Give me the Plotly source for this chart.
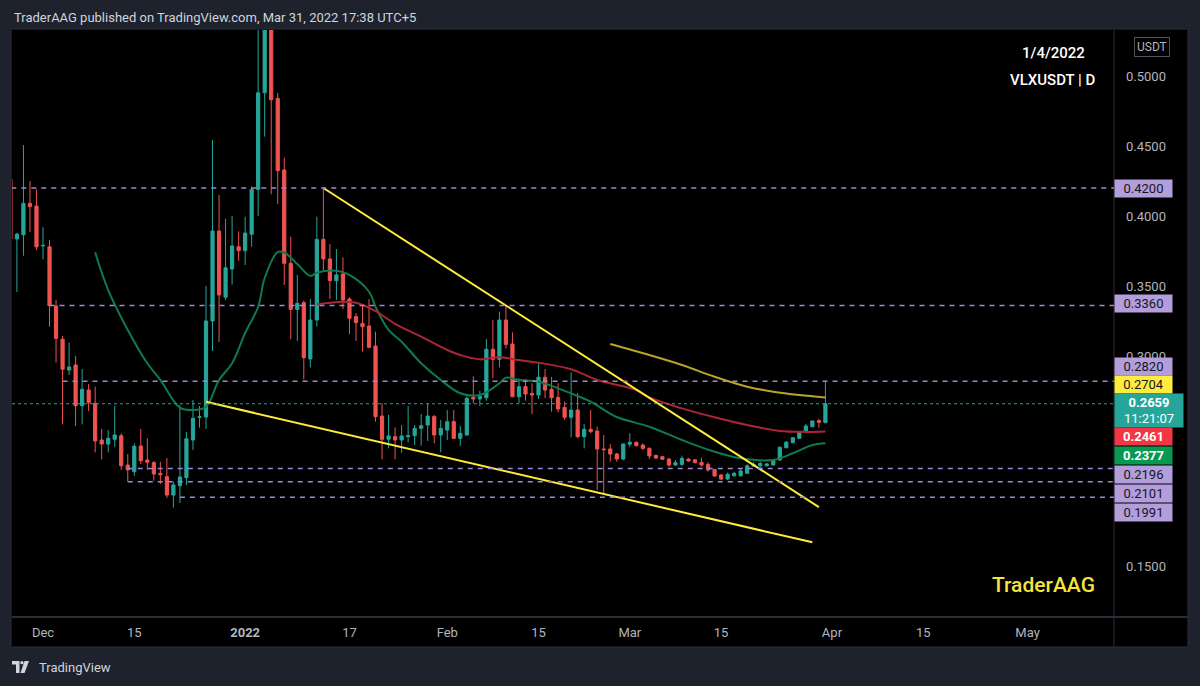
import pandas as pd
import plotly.graph_objects as go

# ---------------- data ----------------
dates = pd.date_range("2021-11-26", "2022-03-31", freq="D")

opens = [0.4264, 0.3836, 0.3866, 0.4090, 0.4071, 0.3786, 0.3780, 0.3357, 0.3120, 0.2900,
         0.2936, 0.2645, 0.2757, 0.2662, 0.2400, 0.2371, 0.2405, 0.2431, 0.2221, 0.2174,
         0.2357, 0.2257, 0.2238, 0.2162, 0.2138, 0.2007, 0.2074, 0.2131, 0.2400, 0.2562,
         0.2564, 0.3250, 0.3893, 0.3420, 0.3621, 0.3780, 0.3752, 0.3870, 0.4190, 0.4880,
         0.5600, 0.4840, 0.4329, 0.3662, 0.3333, 0.3381, 0.2979, 0.3257, 0.3833, 0.3693,
         0.3538, 0.3586, 0.3407, 0.3281, 0.3233, 0.3214, 0.3071, 0.2571, 0.2405, 0.2424,
         0.2400, 0.2424, 0.2431, 0.2483, 0.2507, 0.2567, 0.2436, 0.2471, 0.2531, 0.2412,
         0.2436, 0.2705, 0.2693, 0.2702, 0.3048, 0.2976, 0.3257, 0.3086, 0.2709, 0.2781,
         0.2733, 0.2721, 0.2848, 0.2762, 0.2705, 0.2633, 0.2562, 0.2614, 0.2424, 0.2476,
         0.2464, 0.2336, 0.2336, 0.2300, 0.2264, 0.2370, 0.2384, 0.2364, 0.2340, 0.2291,
         0.2281, 0.2264, 0.2221, 0.2226, 0.2264, 0.2259, 0.2240, 0.2226, 0.2190, 0.2150,
         0.2121, 0.2145, 0.2145, 0.2162, 0.2214, 0.2216, 0.2216, 0.2221, 0.2257, 0.2345,
         0.2381, 0.2412, 0.2459, 0.2495, 0.2538, 0.2524]
highs = [0.4288, 0.3880, 0.4507, 0.4250, 0.4190, 0.3920, 0.3830, 0.3400, 0.3143, 0.3095,
         0.3000, 0.2907, 0.2800, 0.2781, 0.2479, 0.2471, 0.2643, 0.2448, 0.2300, 0.2376,
         0.2479, 0.2412, 0.2250, 0.2245, 0.2271, 0.2102, 0.2650, 0.2459, 0.2686, 0.2643,
         0.3500, 0.4543, 0.4150, 0.3980, 0.4000, 0.3890, 0.3995, 0.4210, 0.5600, 0.6000,
         0.6000, 0.4880, 0.4417, 0.3852, 0.3579, 0.3395, 0.3407, 0.3995, 0.4198, 0.3800,
         0.3764, 0.3705, 0.3419, 0.3305, 0.3364, 0.3407, 0.3174, 0.2662, 0.2579, 0.2490,
         0.2507, 0.2643, 0.2507, 0.2586, 0.2662, 0.2579, 0.2543, 0.2614, 0.2614, 0.2500,
         0.2710, 0.2855, 0.2752, 0.3121, 0.3257, 0.3317, 0.3364, 0.3169, 0.2840, 0.2836,
         0.2805, 0.2943, 0.2907, 0.2850, 0.2805, 0.2674, 0.2883, 0.2736, 0.2514, 0.2614,
         0.2495, 0.2436, 0.2371, 0.2309, 0.2376, 0.2448, 0.2388, 0.2376, 0.2348, 0.2293,
         0.2286, 0.2274, 0.2257, 0.2288, 0.2269, 0.2262, 0.2274, 0.2240, 0.2193, 0.2157,
         0.2167, 0.2174, 0.2198, 0.2226, 0.2245, 0.2245, 0.2236, 0.2260, 0.2352, 0.2393,
         0.2421, 0.2462, 0.2514, 0.2538, 0.2550, 0.2820]
lows = [0.3757, 0.3457, 0.3716, 0.3886, 0.3757, 0.3690, 0.3210, 0.2952, 0.2512, 0.2864,
        0.2500, 0.2512, 0.2607, 0.2312, 0.2262, 0.2312, 0.2352, 0.2186, 0.2102, 0.2143,
        0.2229, 0.2186, 0.2109, 0.2086, 0.1986, 0.1917, 0.1950, 0.2079, 0.2329, 0.2488,
        0.2479, 0.3036, 0.3100, 0.3400, 0.3510, 0.3680, 0.3650, 0.3780, 0.4000, 0.4567,
        0.4155, 0.4086, 0.3507, 0.3120, 0.3107, 0.2833, 0.2919, 0.3210, 0.3610, 0.3407,
        0.3400, 0.3336, 0.3157, 0.3107, 0.3031, 0.3055, 0.2531, 0.2262, 0.2340, 0.2262,
        0.2309, 0.2383, 0.2364, 0.2359, 0.2393, 0.2376, 0.2312, 0.2400, 0.2407, 0.2359,
        0.2431, 0.2662, 0.2643, 0.2680, 0.2841, 0.2919, 0.3055, 0.2705, 0.2662, 0.2681,
        0.2586, 0.2693, 0.2698, 0.2602, 0.2598, 0.2543, 0.2419, 0.2412, 0.2340, 0.2448,
        0.2043, 0.2019, 0.2245, 0.2245, 0.2257, 0.2348, 0.2352, 0.2329, 0.2264, 0.2264,
        0.2257, 0.2209, 0.2216, 0.2214, 0.2245, 0.2233, 0.2209, 0.2174, 0.2138, 0.2114,
        0.2114, 0.2138, 0.2138, 0.2160, 0.2210, 0.2191, 0.2212, 0.2219, 0.2252, 0.2340,
        0.2380, 0.2410, 0.2455, 0.2493, 0.2488, 0.2519]
closes = [0.3836, 0.3870, 0.4090, 0.4067, 0.3780, 0.3790, 0.3360, 0.3126, 0.2905, 0.2921,
          0.2645, 0.2762, 0.2667, 0.2393, 0.2371, 0.2412, 0.2436, 0.2216, 0.2186, 0.2355,
          0.2252, 0.2241, 0.2157, 0.2152, 0.2007, 0.2079, 0.2136, 0.2409, 0.2555, 0.2566,
          0.3250, 0.3893, 0.3436, 0.3630, 0.3786, 0.3752, 0.3878, 0.4190, 0.4880, 0.5600,
          0.4830, 0.4324, 0.3662, 0.3333, 0.3376, 0.2988, 0.3257, 0.3833, 0.3693, 0.3538,
          0.3579, 0.3400, 0.3269, 0.3238, 0.3209, 0.3062, 0.2567, 0.2405, 0.2429, 0.2400,
          0.2429, 0.2431, 0.2483, 0.2502, 0.2571, 0.2436, 0.2483, 0.2531, 0.2412, 0.2448,
          0.2698, 0.2693, 0.2710, 0.3048, 0.2976, 0.3257, 0.3083, 0.2709, 0.2781, 0.2729,
          0.2721, 0.2848, 0.2757, 0.2702, 0.2621, 0.2562, 0.2614, 0.2424, 0.2476, 0.2460,
          0.2336, 0.2331, 0.2300, 0.2264, 0.2371, 0.2384, 0.2360, 0.2340, 0.2286, 0.2271,
          0.2262, 0.2221, 0.2238, 0.2269, 0.2250, 0.2238, 0.2221, 0.2186, 0.2143, 0.2121,
          0.2155, 0.2162, 0.2179, 0.2216, 0.2226, 0.2233, 0.2229, 0.2257, 0.2348, 0.2384,
          0.2416, 0.2459, 0.2500, 0.2536, 0.2526, 0.2659]

ma_green_dates = ["2021-12-09", "2021-12-11", "2021-12-14", "2021-12-17", "2021-12-19", "2021-12-22",
                  "2021-12-24", "2021-12-26", "2021-12-28", "2021-12-30", "2022-01-01", "2022-01-03",
                  "2022-01-04", "2022-01-06", "2022-01-07", "2022-01-09", "2022-01-11", "2022-01-12",
                  "2022-01-15", "2022-01-17", "2022-01-20", "2022-01-21", "2022-01-23", "2022-01-25",
                  "2022-01-28", "2022-01-31", "2022-02-03", "2022-02-06", "2022-02-09", "2022-02-10",
                  "2022-02-12", "2022-02-15", "2022-02-18", "2022-02-21", "2022-02-23", "2022-02-27",
                  "2022-03-04", "2022-03-09", "2022-03-14", "2022-03-18", "2022-03-23", "2022-03-26",
                  "2022-03-29", "2022-03-31"]
ma_green = [0.3741, 0.3471, 0.3186, 0.2948, 0.2829, 0.2631, 0.2614, 0.2638, 0.2829, 0.2948,
            0.3164, 0.3352, 0.3557, 0.3743, 0.3739, 0.3657, 0.3571, 0.3595, 0.3609, 0.3579,
            0.3459, 0.3352, 0.3186, 0.3102, 0.2948, 0.2829, 0.2734, 0.2721, 0.2805, 0.2845,
            0.2829, 0.2816, 0.2769, 0.2714, 0.2674, 0.2564, 0.2495, 0.2400, 0.2316, 0.2269,
            0.2257, 0.2305, 0.2364, 0.2377]

ma_red_dates = ["2022-01-12", "2022-01-16", "2022-01-18", "2022-01-21", "2022-01-24", "2022-01-28",
                "2022-02-01", "2022-02-03", "2022-02-06", "2022-02-09", "2022-02-12", "2022-02-15",
                "2022-02-20", "2022-02-24", "2022-03-02", "2022-03-04", "2022-03-09", "2022-03-14",
                "2022-03-19", "2022-03-24", "2022-03-28", "2022-03-31"]
ma_red = [0.3369, 0.3388, 0.3381, 0.3321, 0.3229, 0.3138, 0.3043, 0.3007, 0.2976, 0.2991,
          0.2971, 0.2952, 0.2905, 0.2829, 0.2757, 0.2704, 0.2626, 0.2562, 0.2507, 0.2464,
          0.2458, 0.2461]

ma_olive_dates = ["2022-02-26", "2022-03-04", "2022-03-09", "2022-03-14", "2022-03-19", "2022-03-23",
                  "2022-03-27", "2022-03-31"]
ma_olive = [0.3086, 0.3007, 0.2936, 0.2852, 0.2781, 0.2745, 0.2721, 0.2704]

trend_upper_x = ["2022-01-13", "2022-03-30"]
trend_upper_y = [0.4200, 0.1921]
trend_lower_x = ["2021-12-26", "2022-03-29"]
trend_lower_y = [0.2673, 0.1669]

levels = [0.4200, 0.3360, 0.2820, 0.2196, 0.2101, 0.1991]
level_starts = ["2021-11-20", "2021-12-02", "2021-12-04", "2021-12-14", "2021-12-14", "2021-12-22"]

last_price = 0.2659
countdown = "11:21:07"

ytick_vals = [0.15, 0.30, 0.35, 0.40, 0.45, 0.50]
xtick_vals = ["2021-12-01", "2021-12-15", "2022-01-01", "2022-01-17", "2022-02-01", "2022-02-15",
              "2022-03-01", "2022-03-15", "2022-04-01", "2022-04-15", "2022-05-01"]
xtick_text = ["Dec", "15", "<b>2022</b>", "17", "Feb", "15", "Mar", "15", "Apr", "15", "May"]

# ---------------- style ----------------
UP = "#26a69a"
DOWN = "#ef5350"
LAV = "#b39ddb"
LAV_LINE = "#9b87d3"
YEL = "#ffeb3b"
AXIS_TXT = "#b2b5be"
FONT = "Roboto"

W, H = 1200, 686
L, R, T, B = 12, 86, 30, 69
PW = W - L - R
PH = H - T - B


def px(xp):
    return (xp - L) / PW


def py(yp):
    return (H - B - yp) / PH


fig = go.Figure()

fig.add_trace(go.Candlestick(
    x=dates, open=opens, high=highs, low=lows, close=closes,
    increasing=dict(line=dict(color=UP, width=1), fillcolor=UP),
    decreasing=dict(line=dict(color=DOWN, width=1), fillcolor=DOWN),
    showlegend=False, hoverinfo="skip"))

fig.add_trace(go.Scatter(x=ma_green_dates, y=ma_green, mode="lines",
                         line=dict(color="#0f7a4c", width=2, shape="spline", smoothing=1.0),
                         showlegend=False, hoverinfo="skip"))
fig.add_trace(go.Scatter(x=ma_red_dates, y=ma_red, mode="lines",
                         line=dict(color="#ac2535", width=2, shape="spline", smoothing=1.0),
                         showlegend=False, hoverinfo="skip"))
fig.add_trace(go.Scatter(x=ma_olive_dates, y=ma_olive, mode="lines",
                         line=dict(color="#b9a42a", width=2, shape="spline", smoothing=1.0),
                         showlegend=False, hoverinfo="skip"))

fig.add_trace(go.Scatter(x=trend_upper_x, y=trend_upper_y, mode="lines",
                         line=dict(color=YEL, width=2), showlegend=False, hoverinfo="skip"))
fig.add_trace(go.Scatter(x=trend_lower_x, y=trend_lower_y, mode="lines",
                         line=dict(color=YEL, width=2), showlegend=False, hoverinfo="skip"))

shapes = []
# black chart panel (plot + axes)
shapes.append(dict(type="rect", xref="paper", yref="paper", x0=px(11), x1=px(1188),
                   y0=py(647), y1=py(29), fillcolor="#000000", line=dict(color="#2a2e39", width=1),
                   layer="below"))
# axis separators
shapes.append(dict(type="line", xref="paper", yref="paper", x0=1, x1=1, y0=py(647), y1=1,
                   line=dict(color="#2a2e39", width=1), layer="above"))
shapes.append(dict(type="line", xref="paper", yref="paper", x0=0, x1=px(1188), y0=0, y1=0,
                   line=dict(color="#2a2e39", width=2), layer="above"))
# horizontal levels
for lv, st in zip(levels, level_starts):
    shapes.append(dict(type="line", xref="x", yref="y", x0=st, x1="2022-07-01", y0=lv, y1=lv,
                       line=dict(color=LAV_LINE, width=1.5, dash="5px,5px"), layer="above"))
# last price line
shapes.append(dict(type="line", xref="paper", yref="y", x0=0, x1=1, y0=last_price, y1=last_price,
                   line=dict(color=UP, width=1, dash="dot"), layer="above"))
# TradingView logo (simple glyph)
shapes.append(dict(type="path", xref="paper", yref="paper", fillcolor="#d1d4dc", line=dict(width=0),
                   path=f"M {px(12)} {py(661)} L {px(19.5)} {py(661)} L {px(19.5)} {py(673)} "
                        f"L {px(16)} {py(673)} L {px(16)} {py(664.5)} L {px(12)} {py(664.5)} Z"))
shapes.append(dict(type="circle", xref="paper", yref="paper", fillcolor="#d1d4dc", line=dict(width=0),
                   x0=px(20.3), x1=px(23.6), y0=py(664.3), y1=py(661)))
shapes.append(dict(type="path", xref="paper", yref="paper", fillcolor="#d1d4dc", line=dict(width=0),
                   path=f"M {px(24.5)} {py(661)} L {px(29)} {py(661)} L {px(24.5)} {py(673)} "
                        f"L {px(20.5)} {py(673)} Z"))

ann = []
ann.append(dict(xref="paper", yref="paper", x=0, y=py(17.5), xanchor="left", yanchor="middle",
                text="TraderAAG published on TradingView.com, Mar 31, 2022 17:38 UTC+5",
                showarrow=False, font=dict(family=FONT, size=13, color="#d1d4dc")))
ann.append(dict(xref="paper", yref="paper", x=px(1053), y=py(53.5), xanchor="center", yanchor="middle",
                text="1/4/2022", showarrow=False,
                font=dict(family=FONT, size=15, color="#ffffff", weight=500)))
ann.append(dict(xref="paper", yref="paper", x=px(1053), y=py(79.5), xanchor="center", yanchor="middle",
                text="VLXUSDT | D", showarrow=False,
                font=dict(family=FONT, size=15, color="#ffffff", weight=500)))
ann.append(dict(xref="paper", yref="paper", x=px(1043), y=py(585), xanchor="center", yanchor="middle",
                text="TraderAAG", showarrow=False,
                font=dict(family=FONT, size=21, color="#f7e33b", weight=500)))
ann.append(dict(xref="paper", yref="paper", x=px(1151.5), y=py(46.7), xanchor="center", yanchor="middle",
                text="USDT", showarrow=False, font=dict(family=FONT, size=12, color=AXIS_TXT),
                bordercolor="#50535e", borderwidth=1, borderpad=2, bgcolor="#000000"))
ann.append(dict(xref="paper", yref="paper", x=px(37), y=py(667), xanchor="left", yanchor="middle",
                text="TradingView", showarrow=False, font=dict(family=FONT, size=13, color="#d1d4dc")))


def price_label(val, bg, fg, shift, bold=False, text=None, width=55, height=15):
    t = text if text is not None else f"{val:.4f}"
    if bold:
        t = f"<b>{t}</b>"
    ann.append(dict(xref="paper", yref="y", x=1, y=val, xanchor="left", yanchor="middle",
                    yshift=shift, text=t, showarrow=False, bgcolor=bg, borderpad=1,
                    width=width, height=height, align="center",
                    font=dict(family=FONT, size=13, color=fg)))


price_label(levels[0], LAV, "#131722", 0)
price_label(levels[1], LAV, "#131722", 2)
price_label(levels[2], LAV, "#131722", 15)
price_label(ma_olive[-1], YEL, "#131722", 13)
price_label(last_price, UP, "#ffffff", -7,
            text=f"<b>{last_price:.4f}</b><br>{countdown}", width=66, height=31)
price_label(ma_red[-1], "#f23645", "#ffffff", -5.5, bold=True)
price_label(ma_green[-1], "#089950", "#ffffff", -12, bold=True)
price_label(levels[3], LAV, "#131722", -5.6)
price_label(levels[4], LAV, "#131722", -12)
price_label(levels[5], LAV, "#131722", -15)

fig.update_layout(
    width=W, height=H, autosize=False,
    margin=dict(l=L, r=R, t=T, b=B, pad=0),
    paper_bgcolor="#1e222d", plot_bgcolor="#000000",
    shapes=shapes, annotations=ann, showlegend=False,
    xaxis=dict(type="date", range=["2021-11-26 05:53", "2022-05-14 06:15"],
               rangeslider=dict(visible=False), showgrid=False, zeroline=False,
               tickmode="array", tickvals=xtick_vals, ticktext=xtick_text,
               ticks="", ticklabelstandoff=6, showline=False,
               tickfont=dict(family=FONT, size=13, color=AXIS_TXT)),
    yaxis=dict(side="right", range=[0.11357, 0.53286], showgrid=False, zeroline=False,
               tickmode="array", tickvals=ytick_vals, ticktext=[f"{v:.4f}" for v in ytick_vals],
               ticks="", ticklabelstandoff=11, showline=False,
               tickfont=dict(family=FONT, size=13, color=AXIS_TXT)),
)

fig.write_html("out.html")
